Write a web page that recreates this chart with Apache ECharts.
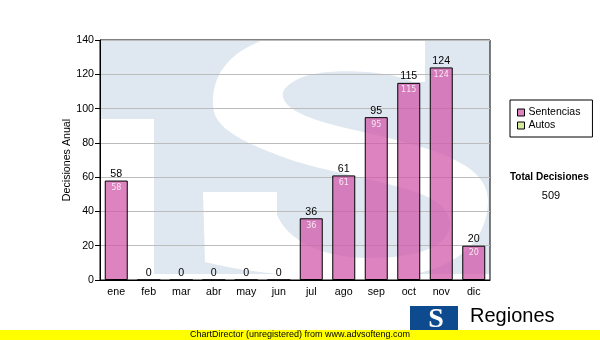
<!DOCTYPE html>
<html><head><meta charset="utf-8">
<script src="https://cdn.jsdelivr.net/npm/echarts@6/dist/echarts.min.js"></script>
<style>html,body{margin:0;padding:0;background:#fff}#c{width:600px;height:340px}</style>
</head><body><div id="c"></div><script>
const months = ['ene','feb','mar','abr','may','jun','jul','ago','sep','oct','nov','dic'];
const sentencias = [58,0,0,0,0,0,36,61,95,115,124,20];
const autos = [];
const seriesNames = ['Sentencias','Autos'];
const yAxisName = 'Decisiones Anual';
const totalLabel = 'Total Decisiones';
const footerText = 'ChartDirector (unregistered) from www.advsofteng.com';
const brandText = 'Regiones';

const total = sentencias.reduce((a,b)=>a+b,0);
const F = 'Liberation Sans, Arial, sans-serif';
const WM = '#dfe8f1';

// watermark "S" outline (decorative background, pixel space)
const sPath = 'M425 36 L425 82 L412 82 ' +
  'C395 72 330 66 300 78 C288 84 281 90 283 97 ' +
  'C286 110 310 120 350 129 C420 145 488 160 488 200 ' +
  'C488 245 450 278 370 278 C300 278 245 272 205 262 ' +
  'L203 192 L277 192 L277 215 ' +
  'C288 240 320 258 370 258 C420 258 452 245 450 222 ' +
  'C447 200 420 192 380 182 C330 170 300 165 270 152 ' +
  'C235 138 213 125 213 105 ' +
  'C211 50 270 28 345 28 C385 28 410 32 425 36 Z';
echarts.graphic.registerShape('wmS', echarts.graphic.extendPath(sPath, {}));

const chart = echarts.init(document.getElementById('c'), null, {renderer:'canvas'});
chart.setOption({
  animation:false,
  grid:{left:100,right:110,top:40,bottom:60,show:true,borderColor:'#000',borderWidth:1,backgroundColor:'transparent'},
  legend:{
    data:[{name:seriesNames[0],icon:'rect'},{name:seriesNames[1],icon:'rect'}],
    orient:'vertical', left:510, top:100,
    borderColor:'#000', borderWidth:1, padding:[7,12,6,7],
    itemWidth:7, itemHeight:7, itemGap:2,
    itemStyle:{borderColor:'#000',borderWidth:1},
    textStyle:{fontFamily:F,fontSize:10.5,color:'#000',padding:[0,0,0,-1]},
    selectedMode:false
  },
  xAxis:{
    type:'category', data:months,
    axisLine:{lineStyle:{color:'#000',width:1}},
    axisTick:{alignWithLabel:true,length:4,lineStyle:{color:'#000'}},
    axisLabel:{color:'#000',fontFamily:F,fontSize:10.67,margin:7}
  },
  yAxis:{
    type:'value', min:0, max:140, interval:20,
    name:yAxisName, nameLocation:'middle', nameGap:27, nameMoveOverlap:false,
    nameTextStyle:{fontFamily:F,fontSize:10.67,color:'#000'},
    axisLine:{show:true,lineStyle:{color:'#000'}},
    axisTick:{show:true,length:5,lineStyle:{color:'#000'}},
    axisLabel:{color:'#000',fontFamily:F,fontSize:10.67,margin:6},
    splitLine:{lineStyle:{color:'#bcbcbc',width:1}}
  },
  series:[
    {name:seriesNames[0],type:'bar',data:sentencias,barWidth:23,z:2,
     itemStyle:{color:'rgba(210,90,170,0.75)',borderColor:'#000',borderWidth:1},
     label:{show:true,position:'top',distance:1,color:'#000',fontFamily:F,fontSize:10.67}},
    {name:seriesNames[1],type:'line',data:autos,color:'#d4eb9b',
     itemStyle:{color:'#d4eb9b'},lineStyle:{color:'#d4eb9b'}},
    {name:'inner',type:'scatter',data:sentencias,symbolSize:1,silent:true,z:4,
     itemStyle:{color:'rgba(0,0,0,0)'},
     label:{show:true,position:'bottom',distance:3,color:'#fff',fontFamily:'DejaVu Sans',fontSize:8,
       formatter:p=>p.value?String(p.value):''}}
  ],
  graphic:[
    {type:'rect',z:-5,shape:{x:100,y:40,width:390,height:79},style:{fill:WM}},
    {type:'rect',z:-5,shape:{x:154,y:119,width:336,height:155},style:{fill:WM}},
    {type:'wmS',z:-4,style:{fill:'#fff'}},
    {type:'rect',z:-3,shape:{x:95,y:0,width:400,height:39.5},style:{fill:'#fff'}},
    {type:'rect',z:-3,shape:{x:95,y:280.5,width:400,height:30},style:{fill:'#fff'}},
    {type:'text',left:510,top:172,style:{text:totalLabel,fill:'#000',font:'bold 10px "Liberation Sans"'}},
    {type:'text',x:551,y:196,style:{text:String(total),fill:'#000',font:'11px "Liberation Sans"',textAlign:'center',textVerticalAlign:'middle'}},
    {type:'rect',shape:{x:410,y:306,width:48,height:26},style:{fill:'#0d4a8e'}},
    {type:'text',x:436,y:320,style:{text:'S',fill:'#fff',font:'bold 28px "Liberation Serif"',textAlign:'center',textVerticalAlign:'middle'}},
    {type:'text',x:470,y:316,style:{text:brandText,fill:'#000',font:'20px "Liberation Sans"',textVerticalAlign:'middle'}},
    {type:'rect',z:10,shape:{x:0,y:330,width:600,height:10},style:{fill:'#ffff00'}},
    {type:'text',z:11,x:300,y:335,style:{text:footerText,fill:'#000',font:'9px "Liberation Sans"',textAlign:'center',textVerticalAlign:'middle'}}
  ]
});
</script></body></html>
